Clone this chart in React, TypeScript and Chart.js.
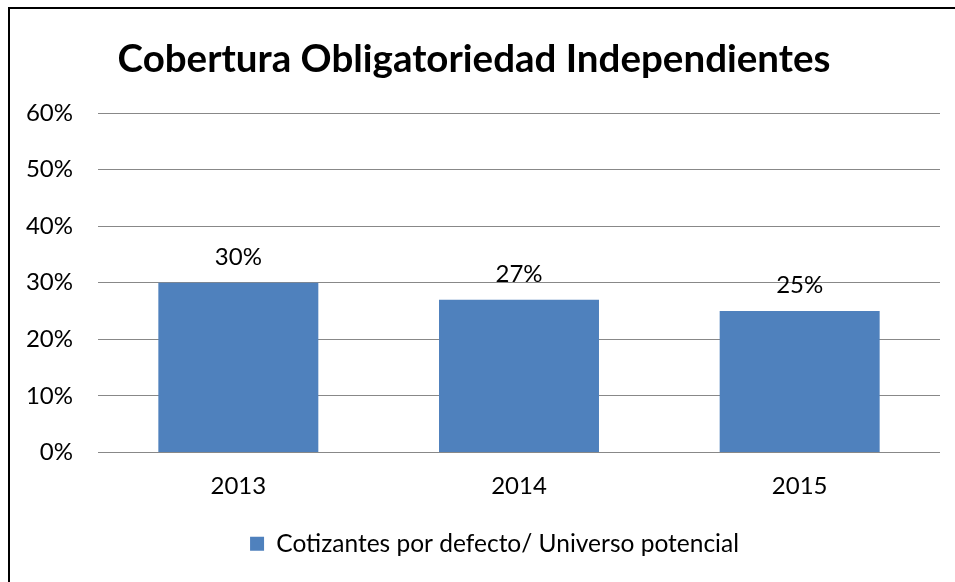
import React, { useEffect, useRef } from "react";
import { Chart, registerables } from "chart.js";

Chart.register(...registerables);

const TITLE = "Cobertura Obligatoriedad Independientes";
const categories = ["2013", "2014", "2015"];
const seriesName = "Cotizantes por defecto/ Universo potencial";
const seriesValues = [30, 27, 25];
const yTicks = [0, 10, 20, 30, 40, 50, 60];

const FONT = "Lato";
const LABEL_SIZE = 24;
const LEGEND_SIZE = 24.5;
const TITLE_SIZE = 38.5;

export default function App() {
  const ref = useRef<HTMLCanvasElement | null>(null);

  useEffect(() => {
    if (!ref.current) return;

    const framePlugin = {
      id: "frame",
      beforeDraw(chart: any) {
        const ctx = chart.ctx;
        ctx.save();
        ctx.fillStyle = "#ffffff";
        ctx.fillRect(0, 0, chart.width, chart.height);
        ctx.strokeStyle = "#000000";
        ctx.lineWidth = 2;
        ctx.strokeRect(9, 8, 3000, 3000);
        ctx.restore();
      },
    };

    const legendShift = {
      id: "legendShift",
      afterLayout(chart: any) {
        if (chart.legend) {
          chart.legend.left = 49;
          chart.legend.right = 940;
        }
      },
    };

    const titlePlugin = {
      id: "customTitle",
      afterDraw(chart: any) {
        const ctx = chart.ctx;
        ctx.save();
        ctx.font = `bold ${TITLE_SIZE}px ${FONT}`;
        ctx.fillStyle = "#000000";
        ctx.textAlign = "center";
        ctx.textBaseline = "alphabetic";
        ctx.fillText(TITLE, 474, 72);
        ctx.restore();
      },
    };

    const valueLabels = {
      id: "valueLabels",
      afterDatasetsDraw(chart: any) {
        const ctx = chart.ctx;
        ctx.save();
        ctx.font = `${LABEL_SIZE}px ${FONT}`;
        ctx.fillStyle = "#000000";
        ctx.textAlign = "center";
        ctx.textBaseline = "alphabetic";
        chart.data.datasets.forEach((ds: any, di: number) => {
          const meta = chart.getDatasetMeta(di);
          meta.data.forEach((el: any, i: number) => {
            ctx.fillText(Math.round(ds.data[i]) + "%", el.x, el.y - 18);
          });
        });
        ctx.restore();
      },
    };

    const chart = new Chart(ref.current, {
      type: "bar",
      data: {
        labels: categories,
        datasets: [
          {
            label: seriesName,
            data: seriesValues,
            backgroundColor: "#4F81BD",
            borderWidth: 0,
            categoryPercentage: 1,
            barPercentage: 0.57,
          },
        ],
      },
      options: {
        responsive: false,
        animation: false,
        layout: { padding: { top: 113, left: 0, right: 15, bottom: 16 } },
        plugins: {
          title: { display: false },
          tooltip: { enabled: false },
          legend: {
            position: "bottom",
            labels: {
              color: "#000000",
              font: { family: FONT, size: LEGEND_SIZE },
              boxWidth: 14,
              boxHeight: 14,
              padding: 10,
            },
          },
        },
        scales: {
          x: {
            grid: { display: false, drawTicks: false },
            border: { display: false },
            ticks: {
              color: "#000000",
              font: { family: FONT, size: LABEL_SIZE },
              padding: 19,
            },
            afterFit(scale: any) {
              scale.height = 69;
            },
          },
          y: {
            min: 0,
            max: 60,
            afterBuildTicks(scale: any) {
              scale.ticks = yTicks.map((v) => ({ value: v }));
            },
            grid: { color: "#888888", lineWidth: 1, drawTicks: false },
            border: { display: false },
            ticks: {
              color: "#000000",
              font: { family: FONT, size: LABEL_SIZE },
              padding: 25,
              callback: (v: any) => v + "%",
            },
            afterFit(scale: any) {
              scale.width = 98;
            },
          },
        },
      },
      plugins: [framePlugin, legendShift, titlePlugin, valueLabels],
    });

    return () => chart.destroy();
  }, []);

  return (
    <div style={{ position: "absolute", left: 0, top: 0, width: 955, height: 582 }}>
      <canvas ref={ref} width={955} height={582} style={{ width: 955, height: 582 }} />
    </div>
  );
}
